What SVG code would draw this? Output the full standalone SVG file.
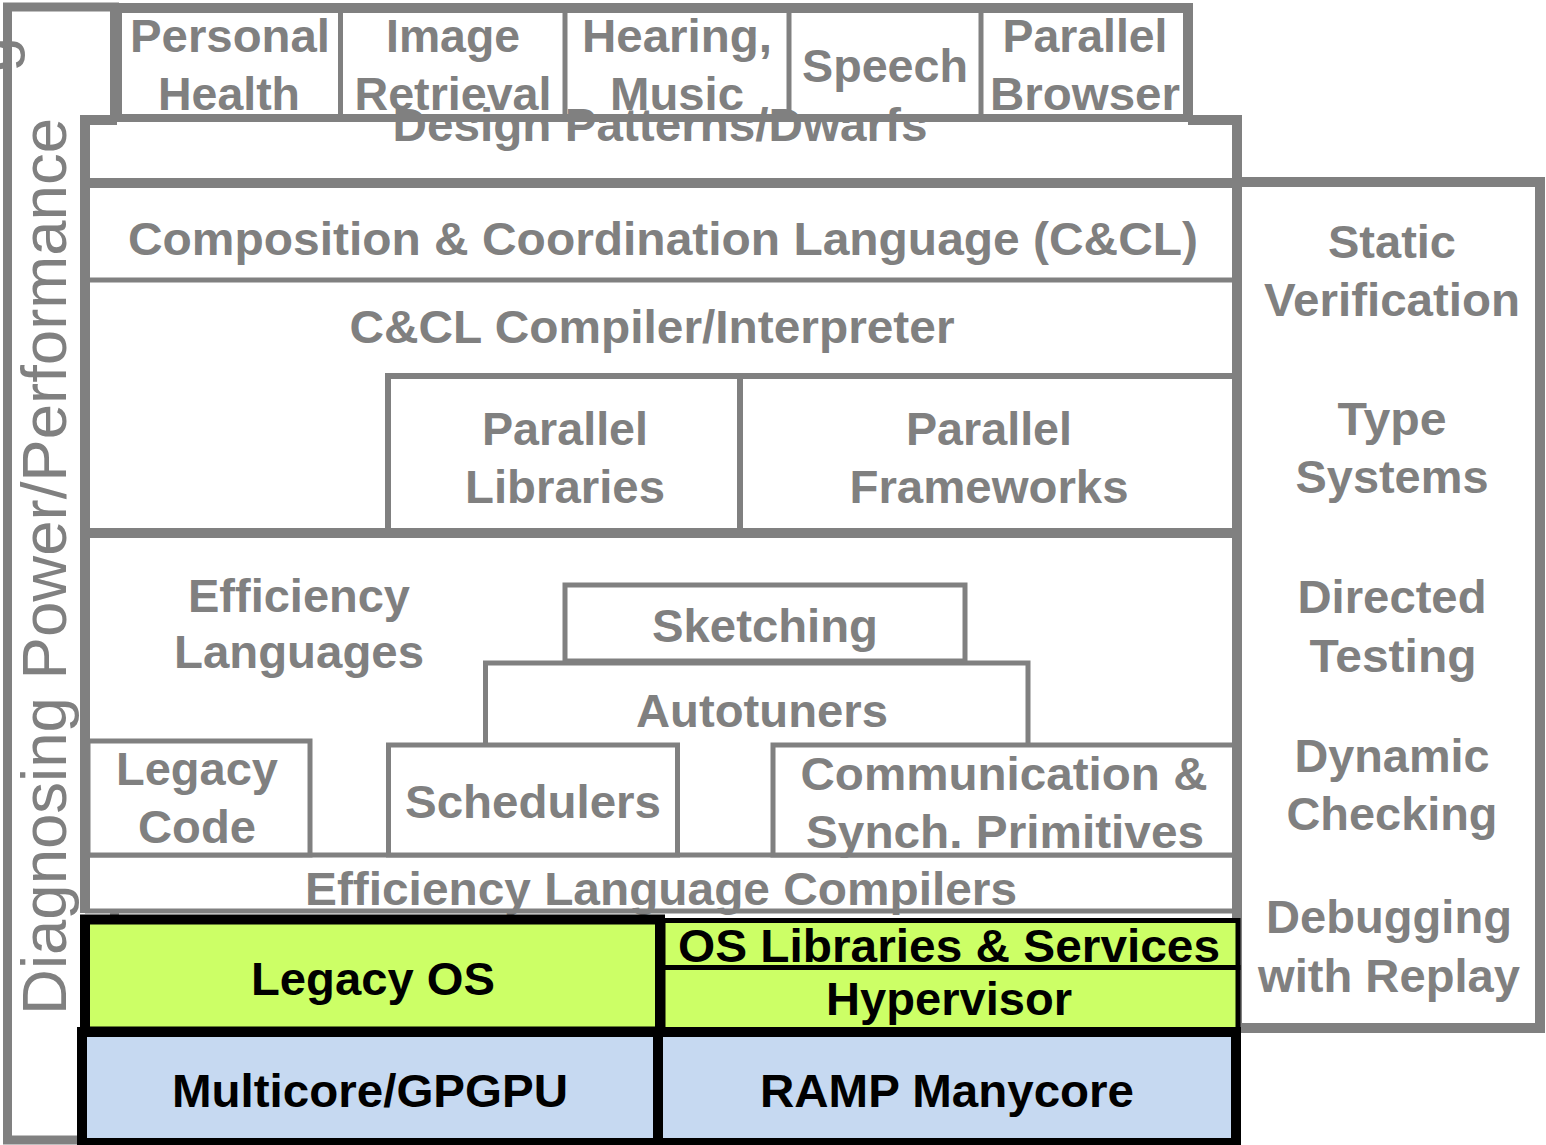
<svg xmlns="http://www.w3.org/2000/svg" width="1546" height="1145" viewBox="0 0 1546 1145">
<style>
.box{fill:#fff;stroke:#808080}
.ln{fill:none;stroke:#808080}
.t{font-family:"Liberation Sans",Arial,Helvetica,sans-serif;font-weight:bold;font-size:47px;fill:#808080;text-anchor:middle}
.k{fill:#000}
.green{fill:#ccff66;stroke:#000}
.blue{fill:#c6d9f1;stroke:#000}
.v{font-family:"Liberation Sans",Arial,Helvetica,sans-serif;font-weight:normal;font-size:63px;fill:#808080}
</style>
<rect width="1546" height="1145" fill="#fff"/>

<g id="diagnosing">
<rect class="box" x="7.5" y="7" width="107" height="1133" stroke-width="9"/>
<text class="v" transform="translate(12,72) rotate(-90)">g</text>
<text class="v" transform="translate(66,1015) rotate(-90)" textLength="897" lengthAdjust="spacingAndGlyphs">Diagnosing Power/Performance</text>
</g>

<g id="apps">
<rect class="box" x="117" y="8" width="1071" height="111" stroke-width="10"/>
<g class="ln" stroke-width="5">
<line x1="340.5" y1="12" x2="340.5" y2="120"/>
<line x1="565" y1="12" x2="565" y2="120"/>
<line x1="789" y1="12" x2="789" y2="120"/>
<line x1="981" y1="12" x2="981" y2="120"/>
</g>
<g id="personal-health"><text class="t" x="230" y="52" textLength="200" lengthAdjust="spacingAndGlyphs">Personal</text><text class="t" x="229" y="110" textLength="142" lengthAdjust="spacingAndGlyphs">Health</text></g>
<g id="image-retrieval"><text class="t" x="453" y="52" textLength="134" lengthAdjust="spacingAndGlyphs">Image</text><text class="t" x="453" y="110" textLength="197" lengthAdjust="spacingAndGlyphs">Retrieval</text></g>
<g id="hearing-music"><text class="t" x="677" y="52" textLength="190" lengthAdjust="spacingAndGlyphs">Hearing,</text><text class="t" x="677" y="110" textLength="134" lengthAdjust="spacingAndGlyphs">Music</text></g>
<g id="speech"><text class="t" x="885" y="82" textLength="166" lengthAdjust="spacingAndGlyphs">Speech</text></g>
<g id="parallel-browser"><text class="t" x="1085" y="52" textLength="165" lengthAdjust="spacingAndGlyphs">Parallel</text><text class="t" x="1085" y="110" textLength="190" lengthAdjust="spacingAndGlyphs">Browser</text></g>
</g>

<g id="design-patterns">
<rect x="85" y="120" width="1152" height="63" fill="#fff"/>
<path class="ln" d="M117 120 H85 V183 H1237 V120 H1188" stroke-width="10"/>
<line class="ln" x1="115" y1="119.5" x2="1190" y2="119.5" stroke-width="5"/>
<text class="t" x="660" y="141" textLength="535" lengthAdjust="spacingAndGlyphs">Design Patterns/Dwarfs</text>
</g>

<g id="main-stack">
<rect x="85" y="183" width="1152" height="728" fill="#fff"/>
<path class="ln" d="M85 183 V913 M1237 183 V913" stroke-width="10"/>
<line class="ln" x1="85" y1="183" x2="1237" y2="183" stroke-width="10"/>
<line class="ln" x1="85" y1="280" x2="1237" y2="280" stroke-width="5"/>
<line class="ln" x1="85" y1="855" x2="1237" y2="855" stroke-width="5"/>
<line class="ln" x1="85" y1="911" x2="1237" y2="911" stroke-width="5"/>
</g>

<g id="ccl"><text class="t" x="663" y="255" textLength="1070" lengthAdjust="spacingAndGlyphs">Composition &amp; Coordination Language (C&amp;CL)</text></g>
<g id="ccl-compiler"><text class="t" x="652" y="343" textLength="605" lengthAdjust="spacingAndGlyphs">C&amp;CL Compiler/Interpreter</text></g>

<g id="parallel-libraries">
<rect class="box" x="388" y="376" width="352" height="157" stroke-width="6"/>
<text class="t" x="565" y="445" textLength="166" lengthAdjust="spacingAndGlyphs">Parallel</text>
<text class="t" x="565" y="503" textLength="200" lengthAdjust="spacingAndGlyphs">Libraries</text>
</g>
<g id="parallel-frameworks">
<rect class="box" x="740" y="376" width="497" height="157" stroke-width="6"/>
<text class="t" x="989" y="445" textLength="166" lengthAdjust="spacingAndGlyphs">Parallel</text>
<text class="t" x="989" y="503" textLength="279" lengthAdjust="spacingAndGlyphs">Frameworks</text>
</g>
<line class="ln" x1="85" y1="533" x2="1237" y2="533" stroke-width="10"/>

<g id="efficiency-languages">
<text class="t" x="299" y="612" textLength="222" lengthAdjust="spacingAndGlyphs">Efficiency</text>
<text class="t" x="299" y="668" textLength="250" lengthAdjust="spacingAndGlyphs">Languages</text>
</g>

<g id="autotuners">
<path class="ln" d="M485.5 745 V663 H1028 V745" stroke-width="5"/>
<text class="t" x="762" y="727" textLength="252" lengthAdjust="spacingAndGlyphs">Autotuners</text>
</g>
<g id="sketching">
<rect class="box" x="565" y="585" width="400" height="76" stroke-width="5"/>
<text class="t" x="765" y="642" textLength="226" lengthAdjust="spacingAndGlyphs">Sketching</text>
</g>
<g id="legacy-code">
<rect class="box" x="88" y="741" width="222" height="114" stroke-width="5"/>
<text class="t" x="197" y="785" textLength="162" lengthAdjust="spacingAndGlyphs">Legacy</text>
<text class="t" x="197" y="843" textLength="118" lengthAdjust="spacingAndGlyphs">Code</text>
</g>
<g id="schedulers">
<rect class="box" x="388.5" y="745" width="289" height="110" stroke-width="5"/>
<text class="t" x="533" y="818" textLength="256" lengthAdjust="spacingAndGlyphs">Schedulers</text>
</g>
<g id="communication">
<rect class="box" x="773" y="745" width="464" height="110" stroke-width="5"/>
<text class="t" x="1004" y="790" textLength="407" lengthAdjust="spacingAndGlyphs">Communication &amp;</text>
<text class="t" x="1005" y="848" textLength="398" lengthAdjust="spacingAndGlyphs">Synch. Primitives</text>
</g>
<g id="efficiency-compilers">
<text class="t" x="661" y="905" textLength="712" lengthAdjust="spacingAndGlyphs">Efficiency Language Compilers</text>
</g>

<g id="verification">
<rect class="box" x="1237" y="182" width="303" height="846" stroke-width="10"/>
<text class="t" x="1392" y="258" textLength="128" lengthAdjust="spacingAndGlyphs">Static</text>
<text class="t" x="1392" y="316" textLength="256" lengthAdjust="spacingAndGlyphs">Verification</text>
<text class="t" x="1392" y="435" textLength="109" lengthAdjust="spacingAndGlyphs">Type</text>
<text class="t" x="1392" y="493" textLength="193" lengthAdjust="spacingAndGlyphs">Systems</text>
<text class="t" x="1392" y="613" textLength="189" lengthAdjust="spacingAndGlyphs">Directed</text>
<text class="t" x="1393" y="672" textLength="167" lengthAdjust="spacingAndGlyphs">Testing</text>
<text class="t" x="1392" y="772" textLength="195" lengthAdjust="spacingAndGlyphs">Dynamic</text>
<text class="t" x="1392" y="830" textLength="211" lengthAdjust="spacingAndGlyphs">Checking</text>
<text class="t" x="1389" y="933" textLength="246" lengthAdjust="spacingAndGlyphs">Debugging</text>
<text class="t" x="1389" y="992" textLength="262" lengthAdjust="spacingAndGlyphs">with Replay</text>
</g>

<g id="legacy-os">
<rect class="green" x="85" y="919.5" width="575" height="112" stroke-width="10"/>
<text class="t k" x="373" y="995" textLength="244" lengthAdjust="spacingAndGlyphs">Legacy OS</text>
</g>
<g id="os-libraries">
<rect class="green" x="663" y="920.5" width="575" height="47" stroke-width="5"/>
<text class="t k" x="949" y="962" textLength="542" lengthAdjust="spacingAndGlyphs">OS Libraries &amp; Services</text>
</g>
<g id="hypervisor">
<rect class="green" x="663" y="967.5" width="575" height="62" stroke-width="5"/>
<text class="t k" x="949" y="1015" textLength="246" lengthAdjust="spacingAndGlyphs">Hypervisor</text>
</g>
<g id="multicore">
<rect class="blue" x="82" y="1032" width="576" height="111" stroke-width="10"/>
<text class="t k" x="370" y="1107" textLength="396" lengthAdjust="spacingAndGlyphs">Multicore/GPGPU</text>
</g>
<g id="ramp">
<rect class="blue" x="658" y="1032" width="578" height="111" stroke-width="10"/>
<text class="t k" x="947" y="1107" textLength="374" lengthAdjust="spacingAndGlyphs">RAMP Manycore</text>
</g>
</svg>
